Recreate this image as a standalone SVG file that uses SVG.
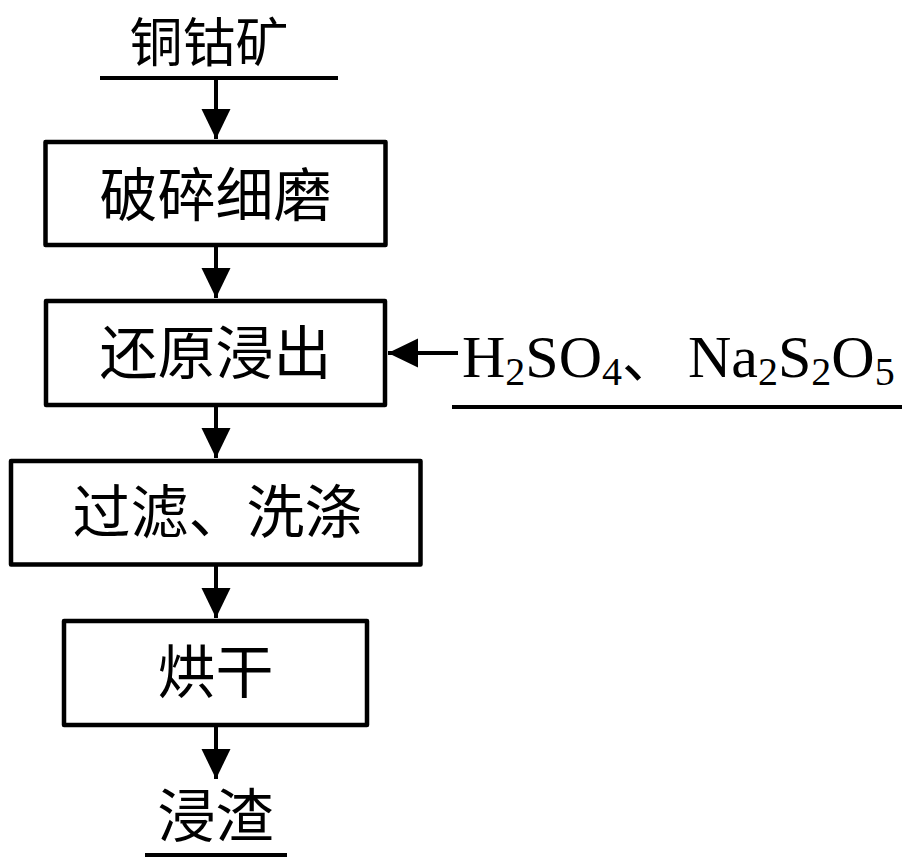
<svg xmlns="http://www.w3.org/2000/svg" width="909" height="868" viewBox="0 0 909 868">
  <style>
    .box { fill: #fff; stroke: #000; stroke-width: 4.5; stroke-linejoin: round; }
    .cjk { font-family: "Noto Sans CJK SC", sans-serif; font-size: 58px; fill: #000; text-anchor: middle; }
    .chem { font-family: "Liberation Serif", "Times New Roman", serif; font-size: 60px; fill: #000; }
    .sub { font-size: 40px; }
    .line { stroke: #000; stroke-width: 4; fill: none; }
    .conn { stroke: #000; stroke-width: 4; fill: none; marker-end: url(#arrow); }
  </style>
  <defs>
    <marker id="arrow" markerUnits="userSpaceOnUse" markerWidth="32" markerHeight="32" viewBox="0 0 32 32" refX="30" refY="16" orient="auto">
      <path d="M0,1.5 L30,16 L0,30.5 Z" fill="#000"/>
    </marker>
  </defs>
  <rect width="909" height="868" fill="#fff"/>

  <g id="input-ore">
    <text class="cjk" x="209" y="62" style="font-size:53px">铜钴矿</text>
    <line class="line" x1="100" y1="78" x2="338" y2="78"/>
  </g>

  <g id="node-crush">
    <rect class="box" x="45.5" y="142" width="340" height="103"/>
    <text class="cjk" x="215.5" y="216">破碎细磨</text>
  </g>

  <g id="node-leach">
    <rect class="box" x="46" y="301" width="339" height="104"/>
    <text class="cjk" x="215.5" y="374">还原浸出</text>
  </g>

  <g id="input-reagents">
    <text class="chem" x="462" y="377">H<tspan class="sub" dy="8">2</tspan><tspan dy="-8">SO</tspan><tspan class="sub" dy="8">4</tspan><tspan dy="-8" style="font-family:'Noto Sans CJK SC',sans-serif;font-size:56px">、</tspan><tspan x="688">Na</tspan><tspan class="sub" dy="8">2</tspan><tspan dy="-8">S</tspan><tspan class="sub" dy="8">2</tspan><tspan dy="-8">O</tspan><tspan class="sub" dy="8">5</tspan></text>
    <line class="line" x1="452" y1="407" x2="902" y2="407"/>
  </g>

  <g id="node-filter">
    <rect class="box" x="11" y="461" width="409.5" height="103.5"/>
    <text class="cjk" x="217.5" y="533">过滤、洗涤</text>
  </g>

  <g id="node-dry">
    <rect class="box" x="64" y="621" width="303" height="104"/>
    <text class="cjk" x="215.5" y="693">烘干</text>
  </g>

  <g id="output-residue">
    <text class="cjk" x="215.5" y="837">浸渣</text>
    <line class="line" x1="145" y1="855" x2="287" y2="855"/>
  </g>

  <g id="connectors">
    <path class="conn" d="M216,78 L216,139"/>
    <path class="conn" d="M216,247 L216,298"/>
    <path class="conn" d="M216,407 L216,458"/>
    <path class="conn" d="M216,566 L216,618"/>
    <path class="conn" d="M216,727 L216,779"/>
    <path class="conn" d="M458,353 L388,353"/>
  </g>
</svg>
